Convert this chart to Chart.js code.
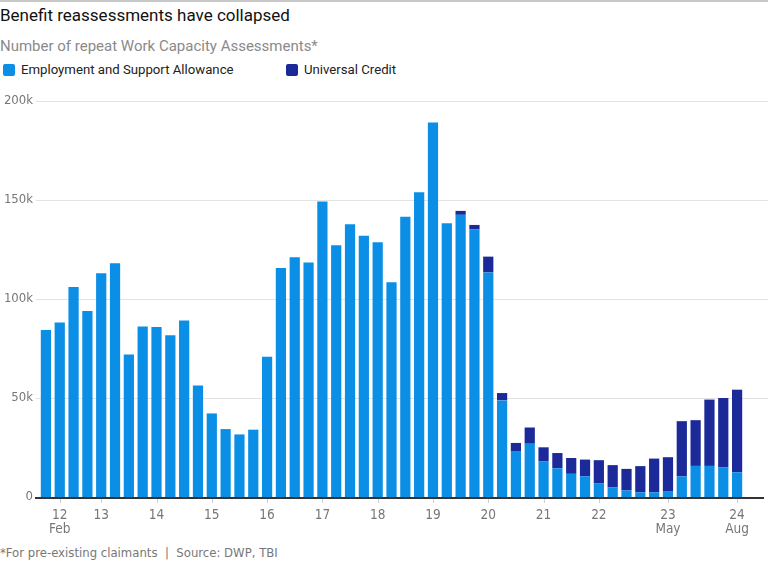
<!DOCTYPE html>
<html>
<head>
<meta charset="utf-8">
<script src="https://cdn.jsdelivr.net/npm/chart.js@4"></script>
<style>
  body { margin: 0; width: 768px; height: 576px; background: #fff; position: relative; overflow: hidden; font-family: Roboto, "Noto Sans", sans-serif; }
  .topline { position: absolute; left: 0; top: 0; width: 768px; height: 2px; background: #c8c8c8; }
  h1 { position: absolute; left: 0; top: 5px; margin: 0; font-size: 17px; font-weight: 400; color: #111; }
  .sub { position: absolute; left: 0; top: 37px; font-size: 15px; color: #8a8a8a; }
  .legend { position: absolute; top: 62px; font-size: 13.2px; color: #222; display: flex; align-items: center; }
  .legend span.box { width: 12px; height: 12px; border-radius: 2px; margin-right: 6px; display: inline-block; }
  .foot { position: absolute; left: 0; top: 545px; font-size: 13px; color: #777; font-family: "DejaVu Sans Condensed", "Liberation Sans Narrow", sans-serif; }
  #chartContainer { position: absolute; left: 0; top: 85px; width: 768px; height: 460px; }
</style>
</head>
<body>
<div class="topline"></div>
<h1>Benefit reassessments have collapsed</h1>
<div class="sub">Number of repeat Work Capacity Assessments*</div>
<div class="legend" style="left:3px"><span class="box" style="background:#0b8fe6"></span>Employment and Support Allowance</div>
<div class="legend" style="left:286px"><span class="box" style="background:#1b2a98"></span>Universal Credit</div>
<div id="chartContainer"><canvas id="myChart"></canvas></div>
<div class="foot">*For pre-existing claimants &nbsp;|&nbsp; Source: DWP, TBI</div>

<script>
const labels = [
  "", ["12", "Feb"], "", "", "13", "", "", "", "14", "", "", "", "15", "", "", "", "16",
  "", "", "", "17", "", "", "", "18", "", "", "", "19", "", "", "", "20", "", "", "",
  "21", "", "", "", "22", "", "", "", "", ["23", "May"], "", "", "", "", ["24", "Aug"]
];

// thousands
const esa = [
  84.4, 88.1, 106.1, 94.0, 113.0, 118.1, 72.0, 86.1, 85.8, 81.7, 89.1, 56.3, 42.2,
  34.3, 31.6, 34.0, 70.8, 115.7, 121.1, 118.4, 149.2, 127.2, 137.8, 132.0, 128.7,
  108.5, 141.6, 153.9, 189.2, 138.3, 142.5, 135.2, 113.4, 48.8, 22.9, 26.9, 17.9,
  14.5, 11.7, 10.5, 7.0, 4.8, 3.3, 2.3, 2.3, 2.7, 10.4, 15.7, 15.7, 14.9, 12.5
];

const uc = [
  0, 0, 0, 0, 0, 0, 0, 0, 0, 0, 0, 0, 0, 0, 0, 0, 0, 0, 0, 0, 0, 0, 0, 0, 0, 0, 0,
  0, 0, 0, 2.0, 2.2, 8.0, 3.7, 4.4, 8.2, 7.2, 7.7, 8.0, 8.4, 11.6, 11.3, 10.9,
  13.3, 17.1, 17.4, 27.9, 23.1, 33.5, 35.1, 41.7
];

const yTicks = [0, 50, 100, 150, 200];

const tickFont = "'DejaVu Sans Condensed', 'Liberation Sans Narrow', sans-serif";

const gridPlugin = {
  id: "wideGrid",
  beforeDatasetsDraw(chart) {
    const { ctx, chartArea, scales } = chart;
    const y = scales.y;
    const x = scales.x;
    ctx.save();
    ctx.lineWidth = 1;
    yTicks.forEach((v) => {
      if (v === 0) return;
      const py = Math.round(y.getPixelForValue(v)) + 0.5;
      ctx.strokeStyle = "#e3e3e3";
      ctx.beginPath();
      ctx.moveTo(chartArea.left - 3, py);
      ctx.lineTo(chart.width, py);
      ctx.stroke();
    });
    // small ticks under labelled categories
    ctx.strokeStyle = "#d0d0d0";
    labels.forEach((l, i) => {
      if (l === "") return;
      const px = Math.round(x.getPixelForValue(i)) + 0.5;
      ctx.beginPath();
      ctx.moveTo(px, chartArea.bottom + 2);
      ctx.lineTo(px, chartArea.bottom + 6);
      ctx.stroke();
    });
    ctx.restore();
  },
  afterDatasetsDraw(chart) {
    const { ctx, chartArea, scales } = chart;
    const py = Math.round(scales.y.getPixelForValue(0)) + 1;
    ctx.save();
    ctx.strokeStyle = "#333";
    ctx.lineWidth = 2;
    ctx.beginPath();
    ctx.moveTo(chartArea.left - 4, py);
    ctx.lineTo(chart.width - 4, py);
    ctx.stroke();
    ctx.restore();
  },
};

const ctx = document.getElementById("myChart").getContext("2d");

new Chart(ctx, {
  type: "bar",
  data: {
    labels: labels,
    datasets: [
      {
        label: "Employment and Support Allowance",
        data: esa,
        backgroundColor: "#0b8fe6",
        barPercentage: 1,
        categoryPercentage: 0.74,
      },
      {
        label: "Universal Credit",
        data: uc,
        backgroundColor: "#1b2a98",
        barPercentage: 1,
        categoryPercentage: 0.74,
      },
    ],
  },
  plugins: [gridPlugin],
  options: {
    responsive: true,
    maintainAspectRatio: false,
    animation: false,
    layout: { padding: { top: 16, right: 24, left: 0, bottom: 0 } },
    plugins: {
      legend: { display: false },
      tooltip: { enabled: false },
    },
    scales: {
      x: {
        stacked: true,
        grid: { display: false, drawTicks: false },
        border: { display: false },
        afterFit: (s) => { s.height = 48; },
        ticks: {
          autoSkip: false,
          maxRotation: 0,
          padding: 12,
          color: "#777",
          font: { family: tickFont, size: 13.5, lineHeight: 1.0 },
        },
      },
      y: {
        stacked: true,
        min: 0,
        max: 200,
        afterFit: (s) => { s.width = 39; },
        afterBuildTicks: (s) => { s.ticks = yTicks.map((v) => ({ value: v })); },
        grid: { display: false, drawTicks: false },
        border: { display: false },
        ticks: {
          padding: 6,
          color: "#777",
          font: { family: tickFont, size: 13 },
          callback: (v) => (v === 0 ? "0" : v + "k"),
        },
      },
    },
  },
});
</script>
</body>
</html>
